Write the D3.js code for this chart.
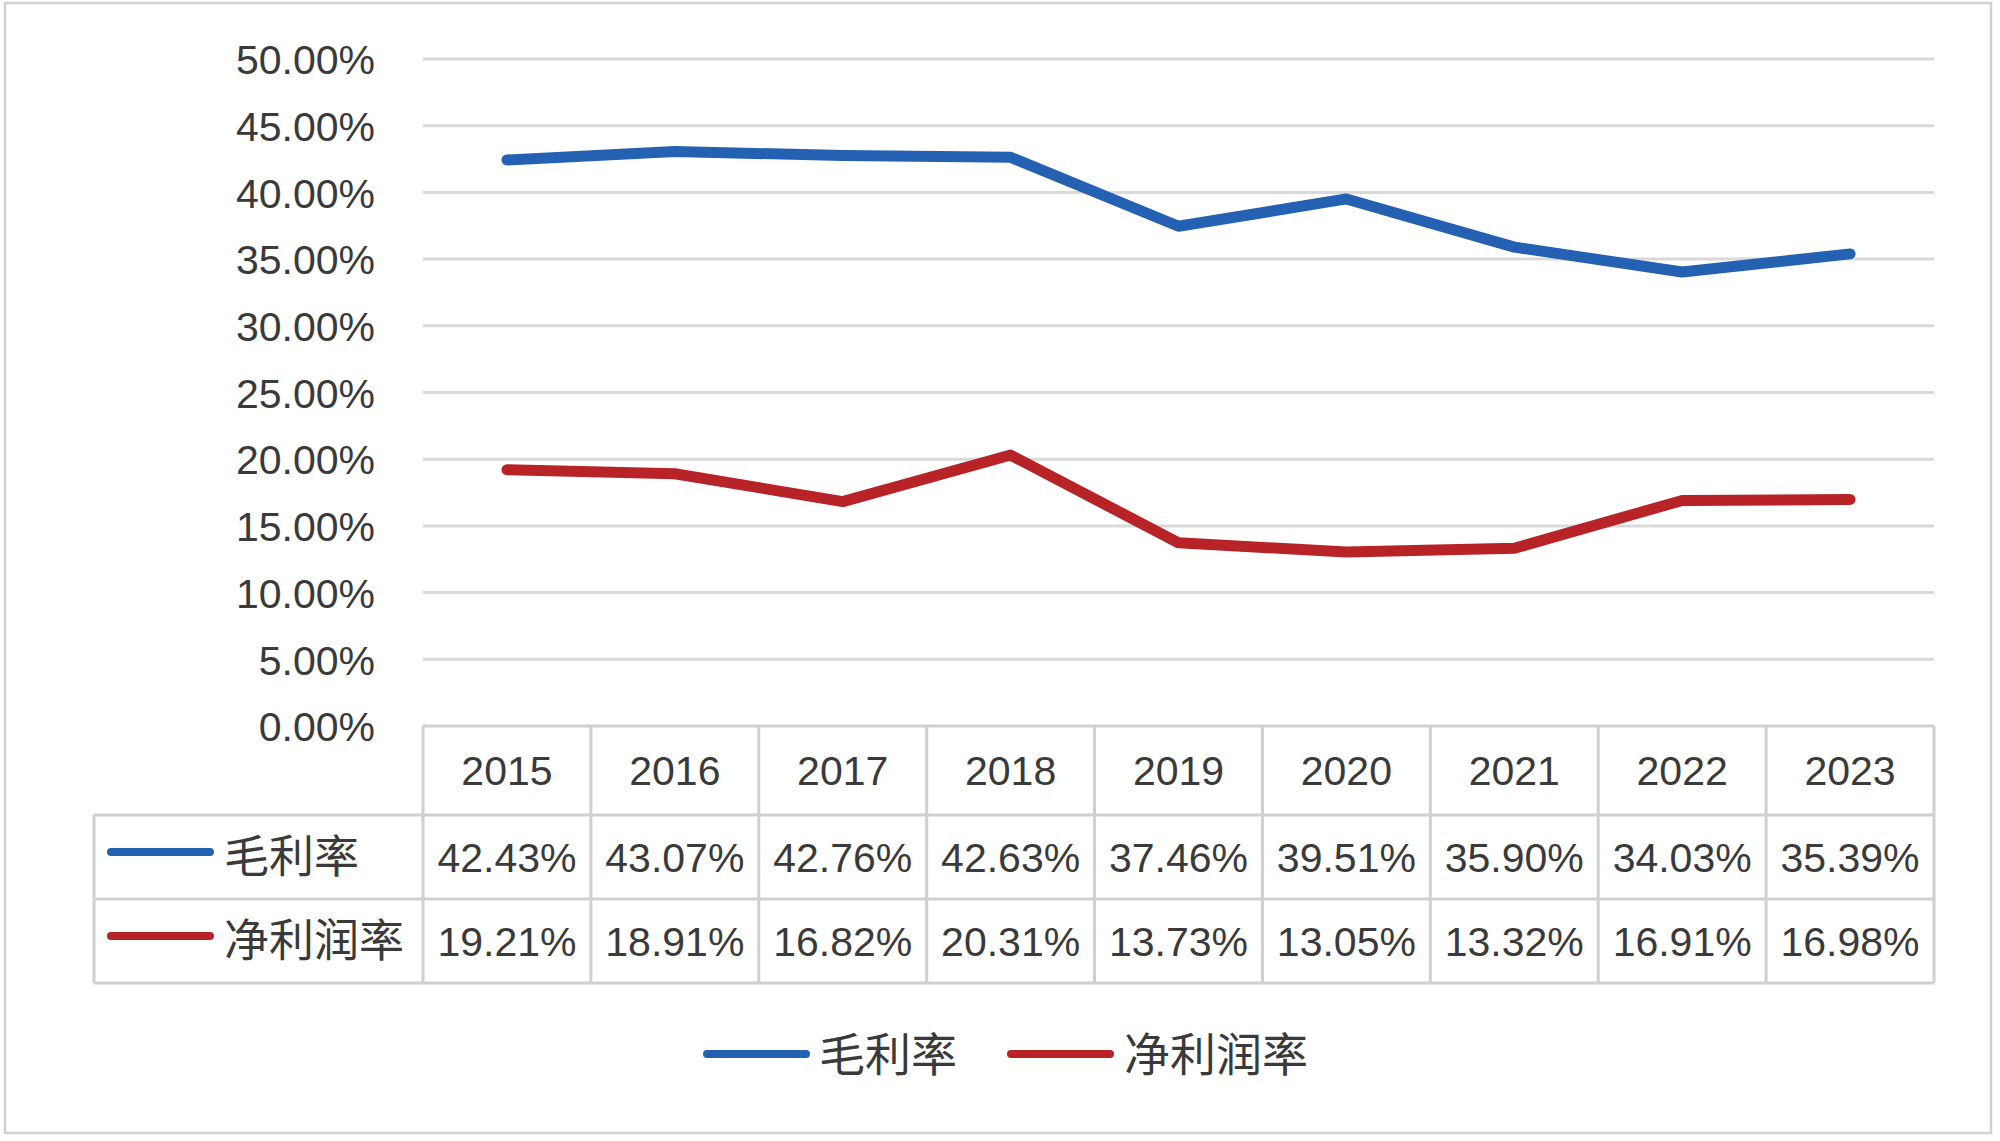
<!DOCTYPE html>
<html><head><meta charset="utf-8">
<script src="https://cdn.jsdelivr.net/npm/d3@7"></script>
<style>
html,body{margin:0;padding:0;background:#fff;}
svg{display:block;}
</style>
</head><body>
<svg id="chart" width="2000" height="1141"></svg>
<script>
// ---- data ----
const years = ["2015","2016","2017","2018","2019","2020","2021","2022","2023"];
const grossMargin = [42.43, 43.07, 42.76, 42.63, 37.46, 39.51, 35.90, 34.03, 35.39];
const netMargin   = [19.21, 18.91, 16.82, 20.31, 13.73, 13.05, 13.32, 16.91, 16.98];
const seriesNames = ["毛利率", "净利润率"];
const yTicks = [0, 5, 10, 15, 20, 25, 30, 35, 40, 45, 50];

// ---- layout ----
const W = 2000, H = 1141;
const plotL = 423, plotR = 1934, plotT = 59, plotB = 726;
const rowH = [89, 84, 84];        // header, row1, row2
const tableL = 94;
const colors = ["#2461B2", "#B82328"];
const textColor = "#3a3a3a";
const gridColor = "#D9D9D9";
const borderColor = "#D0D0D0";
const numFont = "'Liberation Sans', Arial, sans-serif";
const cjkFont = "'Noto Sans CJK SC', sans-serif";

const svg = d3.select("#chart");

// outer border
svg.append("rect").attr("x", 5).attr("y", 3).attr("width", 1986).attr("height", 1130)
  .attr("fill", "#fff").attr("stroke", borderColor).attr("stroke-width", 2.5);

const x = d3.scaleBand().domain(years).range([plotL, plotR]).padding(0);
const y = d3.scaleLinear().domain([0, 50]).range([plotB, plotT]);

// gridlines
svg.append("g").selectAll("line").data(yTicks.filter(d => d > 0)).join("line")
  .attr("x1", plotL).attr("x2", plotR)
  .attr("y1", d => y(d)).attr("y2", d => y(d))
  .attr("stroke", gridColor).attr("stroke-width", 3);

// y axis labels
const yAxis = d3.axisLeft(y).tickValues(yTicks)
  .tickFormat(d => d3.format(".2f")(d) + "%")
  .tickSize(0).tickPadding(48);
const gy = svg.append("g").attr("transform", `translate(${plotL},0)`).call(yAxis);
gy.select(".domain").remove();
gy.selectAll("text").attr("font-family", numFont).attr("font-size", 41)
  .attr("fill", textColor).attr("dy", "0.36em");

// lines
const line = d3.line().x((d, i) => x(years[i]) + x.bandwidth() / 2).y(d => y(d));
[grossMargin, netMargin].forEach((vals, k) => {
  svg.append("path").datum(vals).attr("d", line)
    .attr("fill", "none").attr("stroke", colors[k]).attr("stroke-width", 11)
    .attr("stroke-linejoin", "round").attr("stroke-linecap", "round");
});

// data table
const t = svg.append("g");
const rowTop = [plotB, plotB + rowH[0], plotB + rowH[0] + rowH[1]];
const tableB = plotB + rowH[0] + rowH[1] + rowH[2];
const bw = 3;
// horizontal lines
t.append("line").attr("x1", plotL).attr("x2", plotR).attr("y1", plotB).attr("y2", plotB)
  .attr("stroke", borderColor).attr("stroke-width", bw);
[rowTop[1], rowTop[2], tableB].forEach(yy => {
  t.append("line").attr("x1", tableL).attr("x2", plotR).attr("y1", yy).attr("y2", yy)
    .attr("stroke", borderColor).attr("stroke-width", bw);
});
// vertical lines
t.append("line").attr("x1", tableL).attr("x2", tableL).attr("y1", rowTop[1]).attr("y2", tableB)
  .attr("stroke", borderColor).attr("stroke-width", bw);
years.forEach(yr => {
  t.append("line").attr("x1", x(yr)).attr("x2", x(yr)).attr("y1", plotB).attr("y2", tableB)
    .attr("stroke", borderColor).attr("stroke-width", bw);
});
t.append("line").attr("x1", plotR).attr("x2", plotR).attr("y1", plotB).attr("y2", tableB)
  .attr("stroke", borderColor).attr("stroke-width", bw);

// header years
t.selectAll("text.yr").data(years).join("text").attr("class", "yr")
  .attr("x", d => x(d) + x.bandwidth() / 2)
  .attr("y", rowTop[0] + rowH[0] / 2).attr("dy", "0.36em")
  .attr("text-anchor", "middle").attr("font-family", numFont).attr("font-size", 41)
  .attr("fill", textColor).text(d => d);

// series rows
[grossMargin, netMargin].forEach((vals, k) => {
  const cy = rowTop[k + 1] + rowH[k + 1] / 2;
  t.append("line").attr("x1", 111).attr("x2", 210).attr("y1", cy - 5).attr("y2", cy - 5)
    .attr("stroke", colors[k]).attr("stroke-width", 8).attr("stroke-linecap", "round");
  t.append("text").attr("x", 224).attr("y", cy).attr("dy", "0.36em")
    .attr("font-family", cjkFont).attr("font-size", 45).attr("fill", textColor)
    .text(seriesNames[k]);
  t.selectAll(null).data(vals).join("text")
    .attr("x", (d, i) => x(years[i]) + x.bandwidth() / 2)
    .attr("y", cy).attr("dy", "0.36em")
    .attr("text-anchor", "middle").attr("font-family", numFont).attr("font-size", 41)
    .attr("fill", textColor).text(d => d3.format(".2f")(d) + "%");
});

// bottom legend
const legY = 1054;
const legItems = [{x1: 707, x2: 806, tx: 819}, {x1: 1011, x2: 1110, tx: 1124}];
legItems.forEach((it, k) => {
  svg.append("line").attr("x1", it.x1).attr("x2", it.x2).attr("y1", legY).attr("y2", legY)
    .attr("stroke", colors[k]).attr("stroke-width", 8).attr("stroke-linecap", "round");
  svg.append("text").attr("x", it.tx).attr("y", legY).attr("dy", "0.36em")
    .attr("font-family", cjkFont).attr("font-size", 46).attr("fill", textColor)
    .text(seriesNames[k]);
});
</script>
</body></html>
